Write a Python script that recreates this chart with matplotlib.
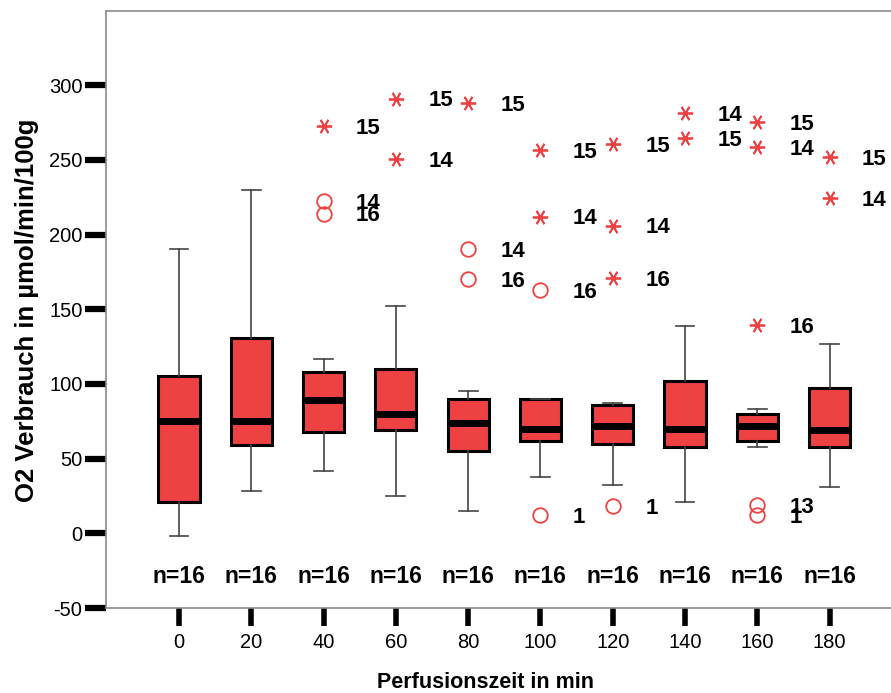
import matplotlib as mpl
import matplotlib.pyplot as plt

mpl.rcParams.update(
    {
        "font.family": "sans-serif",
        "font.sans-serif": ["Liberation Sans", "DejaVu Sans"],
        "figure.facecolor": "white",
        "axes.facecolor": "white",
        "axes.unicode_minus": False,
    }
)

# perfusion time groups (min)
times = [0, 20, 40, 60, 80, 100, 120, 140, 160, 180]
n_cases = [16, 16, 16, 16, 16, 16, 16, 16, 16, 16]

# box statistics
whis_lo = [-2, 28, 42, 25, 15, 38, 32, 21, 57.5, 31]
q1 = [21, 59, 67.5, 69, 55, 62, 60, 57.5, 61.5, 57.5]
median = [75, 75, 89, 80, 73.5, 70, 71.5, 70, 71.5, 69]
q3 = [105.5, 131, 108, 110, 90, 90, 86, 102, 80, 97]
whis_hi = [190, 230, 117, 152, 95.5, 90, 87.5, 139, 83, 127]

# outliers: group index, value, case number, extreme (asterisk) or not (circle)
out_group = [2, 2, 2, 3, 3, 4, 4, 4, 5, 5, 5, 5, 6, 6, 6, 6, 7, 7, 8, 8, 8, 8, 8, 9, 9]
out_value = [272.5, 222.5, 214, 291, 250.5, 288, 190, 170, 256.5, 212, 163, 12,
             260.5, 206, 171, 18, 281, 264.5, 275, 258.5, 139.5, 19, 12, 252, 224.5]
out_case = ["15", "14", "16", "15", "14", "15", "14", "16", "15", "14", "16", "1",
            "15", "14", "16", "1", "14", "15", "15", "14", "16", "13", "1", "15", "14"]
out_extreme = [1, 0, 0, 1, 1, 1, 0, 0, 1, 1, 0, 0,
               1, 1, 1, 0, 1, 1, 1, 1, 1, 0, 0, 1, 1]

RED = "#EE4141"
GREY = "#8a8a8a"

fig = plt.figure(figsize=(8.91, 6.93), dpi=100)
ax = fig.add_axes([106 / 891, 1 - 608 / 693, 1 - 106 / 891, (608 - 11) / 693])

stats = []
for i in range(len(times)):
    stats.append(
        {
            "whislo": whis_lo[i],
            "q1": q1[i],
            "med": median[i],
            "q3": q3[i],
            "whishi": whis_hi[i],
            "fliers": [],
        }
    )

positions = list(range(len(times)))
ax.bxp(
    stats,
    positions=positions,
    widths=0.57,
    patch_artist=True,
    showfliers=False,
    boxprops=dict(facecolor=RED, edgecolor="black", linewidth=2.2),
    medianprops=dict(color="black", linewidth=5, solid_capstyle="butt"),
    whiskerprops=dict(color="#444444", linewidth=1.2),
    capprops=dict(color="#444444", linewidth=1.2),
    capwidths=0.26,
    zorder=3,
)

for g, v, c, ext in zip(out_group, out_value, out_case, out_extreme):
    if ext:
        ax.plot(g, v, marker=(6, 2, 90), markersize=11, color=RED,
                markeredgewidth=1.3, linestyle="none", zorder=4)
    else:
        ax.plot(g, v, marker="o", markersize=10.5, markerfacecolor="none",
                markeredgecolor=RED, markeredgewidth=1.3, linestyle="none", zorder=4)
    ax.text(g + 0.45, v - 1.5, c, fontsize=16, fontweight="bold",
            ha="left", va="center", zorder=5)

for i, n in enumerate(n_cases):
    ax.text(i, -29, f"n={n}", fontsize=16.5, fontweight="bold",
            ha="center", va="center")

ax.set_xlim(-1.01, 9.85)
ax.set_ylim(-50, 349.6)
ax.set_xticks(positions)
ax.set_xticklabels([str(t) for t in times])
ax.set_yticks([-50, 0, 50, 100, 150, 200, 250, 300])

ax.tick_params(axis="y", direction="out", length=15, width=4.5, color="black",
               labelsize=14.5, pad=2)
ax.tick_params(axis="x", direction="out", length=13, width=4, color="black",
               labelsize=14.5, pad=5)

for side in ["left", "top", "bottom"]:
    ax.spines[side].set_color(GREY)
    ax.spines[side].set_linewidth(1.2)
ax.spines["right"].set_visible(False)

fig.text(27 / 891, 1 - 310 / 693, "O2 Verbrauch in µmol/min/100g", rotation=90,
         fontsize=18.5, fontweight="bold", ha="center", va="center")
fig.text(486 / 891, 1 - 683 / 693, "Perfusionszeit in min",
         fontsize=15.5, fontweight="bold", ha="center", va="center")

fig.savefig("out.png", dpi=100)
plt.close(fig)
